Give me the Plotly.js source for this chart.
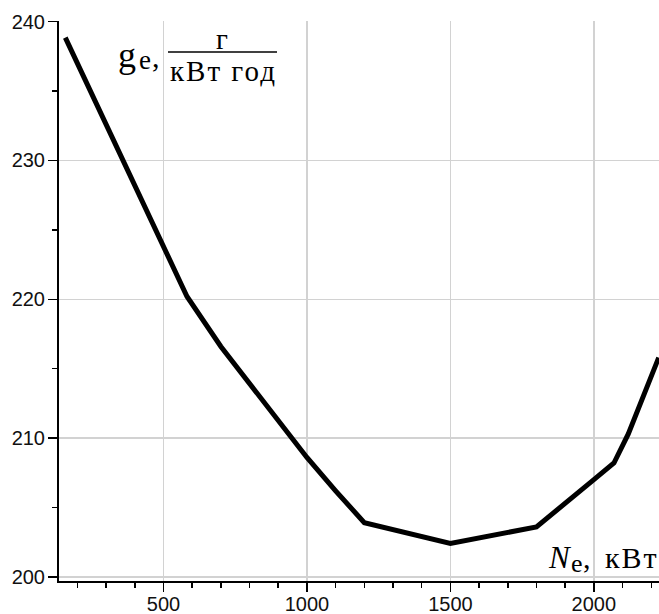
<!DOCTYPE html>
<html>
<head>
<meta charset="utf-8">
<script src="https://cdn.plot.ly/plotly-3.0.1.min.js"></script>
<style>
html,body{margin:0;padding:0;background:#fff;}
#chart{width:659px;height:614px;}
#chart g.annotation[data-index="4"] text{letter-spacing:2px;}
#chart g.annotation[data-index="8"] text{letter-spacing:2px;}
</style>
</head>
<body>
<div id="chart"></div>
<script>
// Data
const powerKW = [158, 285, 355, 477, 582, 700, 800, 900, 1000, 1100, 1200, 1500, 1800, 2000, 2070, 2120, 2226];
const fuelGe  = [238.85, 233.26, 230.18, 224.8, 220.2, 216.6, 213.9, 211.2, 208.6, 206.2, 203.9, 202.4, 203.6, 207.0, 208.2, 210.3, 215.8];
const xTicks = [500, 1000, 1500, 2000];
const yTicks = [200, 210, 220, 230, 240];
const xMinorTicks = [200, 300, 400, 600, 700, 800, 900, 1100, 1200, 1300, 1400, 1600, 1700, 1800, 1900, 2100, 2200];
const yMinorTicks = [205, 215, 225, 235];

const W = 659, H = 614;
const M = {l: 59, r: 0, t: 21, b: 33};
const PW = W - M.l - M.r, PH = H - M.t - M.b;
const px = x => (x - M.l) / PW;       // pixel x -> paper
const py = y => (H - M.b - y) / PH;   // pixel y -> paper

const tickFont = {family: '"Liberation Sans", Arial, sans-serif', size: 20, color: '#111'};
const serif = '"Liberation Serif", "Times New Roman", "DejaVu Serif", serif';

const trace = {
  x: powerKW, y: fuelGe, type: 'scatter', mode: 'lines',
  line: {color: '#000', width: 5}, hoverinfo: 'skip'
};

const axisCommon = {
  showgrid: true, gridcolor: '#d2d2d2', gridwidth: 1.5,
  zeroline: false, showline: true, linecolor: '#000', linewidth: 2,
  ticks: 'outside', ticklen: 9, tickwidth: 1.5, tickcolor: '#000',
  tickfont: tickFont, fixedrange: true
};

function label(text, x, y, size, anchor, italic) {
  return {xref: 'paper', yref: 'paper', x: px(x), y: py(y), xanchor: anchor, yanchor: 'middle',
          text: text, showarrow: false, borderpad: 0,
          font: {family: serif, size: size, color: '#000', style: italic ? 'italic' : 'normal'}};
}

const layout = {
  width: W, height: H,
  margin: M,
  paper_bgcolor: '#fff', plot_bgcolor: '#fff',
  showlegend: false,
  xaxis: Object.assign({}, axisCommon, {
    range: [136, 2227], tickmode: 'array', tickvals: xTicks, ticktext: xTicks.map(String),
    ticklabelstandoff: -5,
    minor: {tickmode: 'array', tickvals: xMinorTicks, ticks: 'outside', ticklen: 5, tickwidth: 1.5, tickcolor: '#000', showgrid: false}
  }),
  yaxis: Object.assign({}, axisCommon, {
    range: [199.7, 240.05], tickmode: 'array', tickvals: yTicks, ticktext: yTicks.map(String),
    ticklabelstandoff: -1,
    minor: {tickmode: 'array', tickvals: yMinorTicks, ticks: 'outside', ticklen: 5, tickwidth: 1.5, tickcolor: '#000', showgrid: false}
  }),
  shapes: [
    // white backing behind the y-axis label (hides grid lines)
    {type: 'rect', xref: 'paper', yref: 'paper', x0: px(103), x1: px(330), y0: py(107), y1: py(0),
     fillcolor: '#fff', line: {width: 0}, layer: 'between'},
    // white backing behind the x-axis label
    {type: 'rect', xref: 'paper', yref: 'paper', x0: px(532), x1: px(662), y0: py(579), y1: py(532),
     fillcolor: '#fff', line: {width: 0}, layer: 'between'},
    // fraction bar of the unit
    {type: 'line', xref: 'paper', yref: 'paper', x0: px(168), x1: px(277), y0: py(52), y1: py(52),
     line: {color: '#000', width: 1.5}, layer: 'above'}
  ],
  annotations: [
    label('g', 117, 55, 36, 'left', false),
    label('e', 138, 60, 27, 'left', false),
    label(',', 151, 56, 30, 'left', false),
    label('г', 222, 39, 29, 'center', false),
    label('кВт год', 223, 71, 29, 'center', false),
    label('N', 547, 557, 31, 'left', true),
    label('e', 570, 563, 26, 'left', false),
    label(',', 582, 557, 30, 'left', false),
    label('кВт', 657, 557, 30, 'right', false)
  ]
};

Plotly.newPlot('chart', [trace], layout, {staticPlot: true, displayModeBar: false});
</script>
</body>
</html>
